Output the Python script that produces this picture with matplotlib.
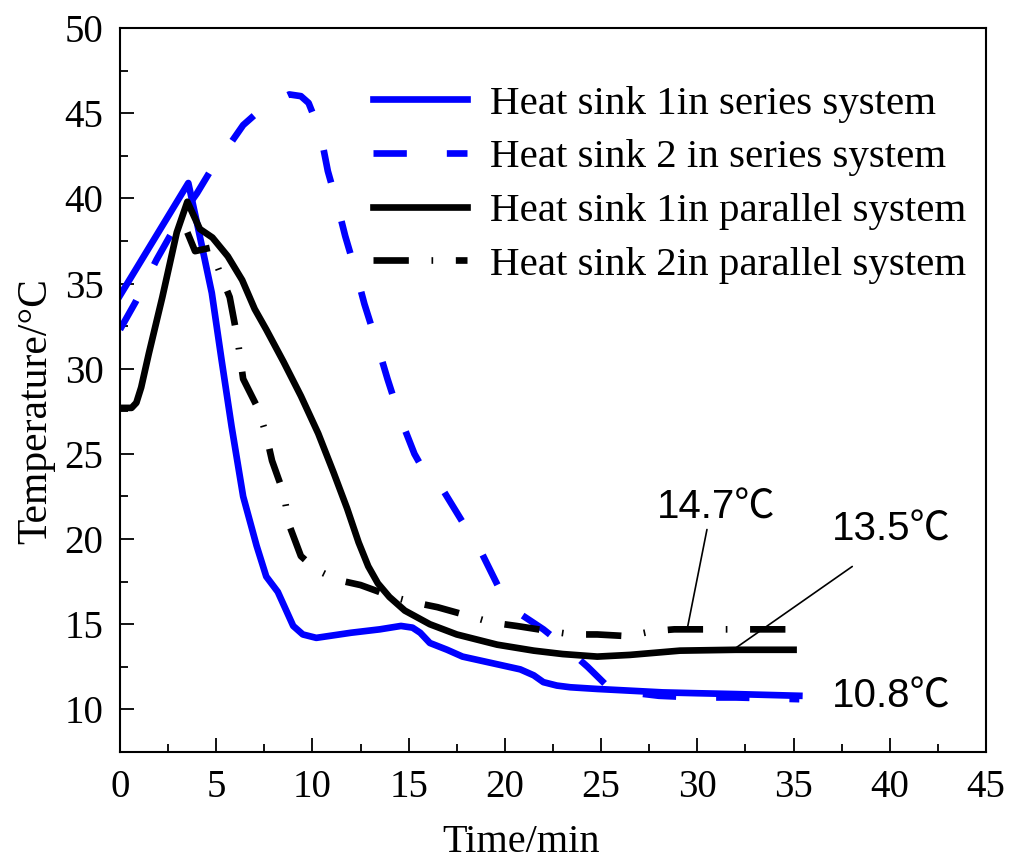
import matplotlib
matplotlib.use("Agg")
import matplotlib.pyplot as plt
from matplotlib.ticker import MultipleLocator

# Heat sink 1, series system
t_s1 = [0, 3.55, 4.05, 4.77, 5.28, 5.8, 6.4, 7.1, 7.6, 8.2, 9.0, 9.5, 10.2, 12.0, 13.5,
        14.6, 15.2, 15.6, 16.1, 17.0, 17.8, 19.0, 20.8, 21.5, 22.0, 22.7, 23.4, 24.8,
        26.5, 28.2, 30.0, 32.0, 35.3]
T_s1 = [34.3, 40.9, 38.3, 34.45, 30.5, 26.6, 22.5, 19.6, 17.8, 16.9, 14.9, 14.4, 14.2, 14.5, 14.7,
        14.9, 14.8, 14.5, 13.9, 13.5, 13.1, 12.8, 12.35, 12.0, 11.6, 11.4, 11.3, 11.2,
        11.1, 11.0, 10.95, 10.9, 10.8]

# Heat sink 2, series system
t_s2 = [0, 0.8, 1.9, 2.7, 3.5, 4.0, 4.8, 5.6, 6.4, 7.2, 7.8, 8.8, 9.4, 9.8, 10.4, 10.8, 11.3,
        11.7, 12.3, 12.7, 13.4, 13.9, 14.5, 15.3, 15.6, 16.5, 17.8, 18.7, 19.75, 20.8,
        22.0, 23.0, 23.9, 24.3, 25.2, 26.5, 28.0, 30.0, 32.0, 35.3]
T_s2 = [32.3, 33.9, 36.4, 38.0, 39.5, 40.3, 41.8, 43.0, 44.3, 45.1, 45.6, 46.1, 46.0, 45.6, 43.9, 41.6, 39.6,
        37.8, 35.5, 33.8, 31.3, 29.4, 27.3, 25.0, 24.4, 23.4, 21.0, 19.4, 17.0, 15.6,
        14.7, 13.8, 12.9, 12.5, 11.5, 11.0, 10.8, 10.7, 10.7, 10.6]

# Heat sink 1, parallel system
t_p1 = [0, 0.6, 0.85, 1.1, 1.5, 2.2, 2.95, 3.5, 4.15, 4.8, 5.6, 6.35, 7.0, 7.6, 8.5, 9.4,
        10.3, 11.1, 11.8, 12.4, 12.9, 13.4, 14.0, 14.8, 16.1, 17.5, 19.6, 21.5, 23.0,
        24.8, 26.5, 29.1, 32.0, 35.0]
T_p1 = [27.7, 27.7, 28.0, 28.9, 30.9, 34.2, 38.0, 39.8, 38.2, 37.7, 36.6, 35.2, 33.5, 32.3, 30.4, 28.4,
        26.2, 23.9, 21.8, 19.8, 18.4, 17.4, 16.6, 15.8, 15.0, 14.4, 13.8, 13.45, 13.25,
        13.1, 13.2, 13.45, 13.5, 13.5]

# Heat sink 2, parallel system
t_p2 = [3.5, 3.9, 4.7, 5.2, 5.7, 6.1, 6.4, 7.2, 7.6, 7.9, 8.5, 8.8, 9.4, 10.2, 11.3,
        12.5, 14.2, 15.2, 16.5, 18.4, 19.3, 20.6, 22.3, 23.5, 24.8, 26.4, 27.7, 28.8,
        30.6, 31.8, 33.1, 35.0]
T_p2 = [38.0, 36.9, 37.1, 35.6, 34.2, 31.8, 29.4, 27.6, 26.1, 24.6, 22.7, 20.8, 19.0, 18.2, 17.6,
        17.3, 16.6, 16.3, 16.0, 15.4, 15.1, 14.9, 14.6, 14.4, 14.4, 14.3, 14.6, 14.7,
        14.7, 14.7, 14.7, 14.7]

labels = ["Heat sink 1in series system", "Heat sink 2 in series system",
          "Heat sink 1in parallel system", "Heat sink 2in parallel system"]

# final values called out on the right
end_p2 = 14.7
end_p1 = 13.5
end_s1 = 10.8

serif = ["Liberation Serif", "DejaVu Serif"]
sans = ["Liberation Sans", "Noto Sans CJK SC", "DejaVu Sans"]
plt.rcParams["font.family"] = serif

fig = plt.figure(figsize=(10.1, 8.61), dpi=100)
ax = fig.add_axes([120 / 1010, 1 - 752 / 861, 866 / 1010, 724 / 861])

lw = 4.8
ax.plot(t_s1, T_s1, color="#0000ff", lw=lw, label=labels[0])
ax.plot(t_s2, T_s2, color="#0000ff", lw=lw, dashes=(5.0, 6.0), label=labels[1])
ax.plot(t_p1, T_p1, color="black", lw=lw, label=labels[2])
ax.plot(t_p2, T_p2, color="black", lw=lw, dashes=(5.3, 3.4, 0.25, 3.4), label=labels[3])

ax.set_xlim(0, 45)
ax.set_ylim(7.5, 50)
ax.xaxis.set_major_locator(MultipleLocator(5))
ax.xaxis.set_minor_locator(MultipleLocator(2.5))
ax.yaxis.set_major_locator(MultipleLocator(5))
ax.yaxis.set_minor_locator(MultipleLocator(2.5))
ax.tick_params(which="both", direction="in", top=False, right=False, width=1.3, labelsize=28)
ax.tick_params(which="major", length=10, pad=12)
ax.tick_params(which="minor", length=5.5)
for s in ax.spines.values():
    s.set_linewidth(1.5)

ax.set_xlabel("Time/min", fontsize=29)
ax.xaxis.label.set_verticalalignment("baseline")
ax.xaxis.set_label_coords((521 - 120) / 866, -0.138)
ax.set_ylabel("Temperature/°C", fontsize=30)
ax.yaxis.set_label_coords(-0.075, 0.471)

leg = ax.legend(loc="upper left", bbox_to_anchor=((373 - 120) / 866, (752 - 85) / 724),
                frameon=False, fontsize=29.5, handlelength=2.3, handletextpad=0.55,
                labelspacing=0.39, borderpad=0, borderaxespad=0)

# leader lines and value labels
ax.annotate("", xy=(29.47, end_p2), xytext=(30.5, 20.56),
            arrowprops=dict(arrowstyle="-", lw=1.2, color="black", shrinkA=0, shrinkB=0))
ax.annotate("", xy=(31.86, end_p1), xytext=(38.05, 18.39),
            arrowprops=dict(arrowstyle="-", lw=1.2, color="black", shrinkA=0, shrinkB=0))
ax.text(31.0, 21.85, f"{end_p2}℃", fontsize=29, family=sans, ha="center", va="center")
ax.text(40.1, 20.56, f"{end_p1}℃", fontsize=29, family=sans, ha="center", va="center")
ax.text(40.1, 10.76, f"{end_s1}℃", fontsize=29, family=sans, ha="center", va="center")

fig.savefig("out.png", dpi=100)
